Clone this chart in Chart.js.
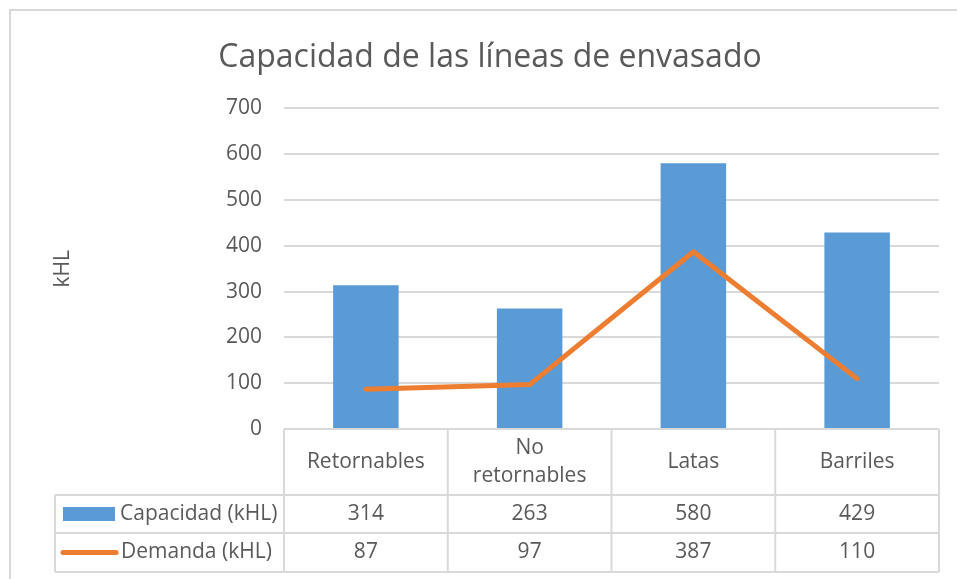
<!DOCTYPE html>
<html>
<head>
<meta charset="utf-8">
<script src="https://cdn.jsdelivr.net/npm/chart.js@4/dist/chart.umd.min.js"></script>
<style>
  body { margin: 0; background: #fff; }
  #wrap { position: relative; width: 957px; height: 579px; }
</style>
</head>
<body>
<div id="wrap"><canvas id="chart" width="957" height="579"></canvas></div>
<script>
// data
const categories = ['Retornables', 'No retornables', 'Latas', 'Barriles'];
const headerLines = [['Retornables'], ['No', 'retornables'], ['Latas'], ['Barriles']];
const capacidad = [314, 263, 580, 429];
const demanda = [87, 97, 387, 110];
const yTicks = [0, 100, 200, 300, 400, 500, 600, 700];

const textColor = '#595959';
const gridColor = '#d9d9d9';
const fontFamily = '"Open Sans", "Liberation Sans", sans-serif';

// frame around the whole chart (top + left, like the cropped excel object)
const framePlugin = {
    id: 'frame',
    beforeDraw(chart) {
        const ctx = chart.ctx;
        ctx.save();
        ctx.fillStyle = '#fff';
        ctx.fillRect(0, 0, chart.width, chart.height);
        ctx.strokeStyle = gridColor;
        ctx.lineWidth = 2;
        ctx.beginPath();
        ctx.moveTo(10, chart.height);
        ctx.lineTo(10, 10);
        ctx.lineTo(chart.width, 10);
        ctx.stroke();
        ctx.restore();
    }
};

// excel style data table under the plot
const dataTablePlugin = {
    id: 'dataTable',
    afterDraw(chart) {
        const ctx = chart.ctx;
        const area = chart.chartArea;
        const x = chart.scales.x;
        const colW = (area.right - area.left) / categories.length;
        const top = area.bottom;
        const r1 = top + 66, r2 = r1 + 38, r3 = r2 + 39;
        const legLeft = 55;

        ctx.save();
        ctx.strokeStyle = gridColor;
        ctx.lineWidth = 2;
        ctx.beginPath();
        // horizontal rules
        ctx.moveTo(area.left, top); ctx.lineTo(area.right, top);
        [r1, r2, r3].forEach(y => { ctx.moveTo(legLeft, y); ctx.lineTo(area.right, y); });
        // vertical rules
        for (let i = 0; i <= categories.length; i++) {
            const xx = area.left + i * colW;
            ctx.moveTo(xx, top); ctx.lineTo(xx, r3);
        }
        ctx.moveTo(legLeft, r1); ctx.lineTo(legLeft, r3);
        ctx.stroke();

        ctx.fillStyle = textColor;
        ctx.font = '21px ' + fontFamily;
        ctx.textAlign = 'center';
        ctx.textBaseline = 'middle';
        categories.forEach((c, i) => {
            const cx = x.getPixelForValue(i);
            const lines = headerLines[i];
            const lh = 28;
            const y0 = (top + r1) / 2 - (lines.length - 1) * lh / 2;
            lines.forEach((t, j) => ctx.fillText(t, cx, y0 + j * lh));
            ctx.fillText(String(capacidad[i]), cx, (r1 + r2) / 2);
            ctx.fillText(String(demanda[i]), cx, (r2 + r3) / 2);
        });

        // legend keys
        const bars = chart.data.datasets.find(d => d.type === 'bar');
        const line = chart.data.datasets.find(d => d.type === 'line');
        ctx.fillStyle = bars.backgroundColor;
        ctx.fillRect(63, (r1 + r2) / 2 - 7, 52, 14);
        ctx.strokeStyle = line.borderColor;
        ctx.lineWidth = 5;
        ctx.lineCap = 'round';
        ctx.beginPath();
        ctx.moveTo(63, (r2 + r3) / 2);
        ctx.lineTo(116, (r2 + r3) / 2);
        ctx.stroke();

        ctx.fillStyle = textColor;
        ctx.textAlign = 'left';
        ctx.fillText(bars.label, 120, (r1 + r2) / 2);
        ctx.fillText(line.label, 121, (r2 + r3) / 2);
        ctx.restore();
    }
};

new Chart(document.getElementById('chart'), {
    data: {
        labels: categories,
        datasets: [
            {
                type: 'bar',
                label: 'Capacidad (kHL)',
                data: capacidad,
                backgroundColor: '#5b9bd5',
                barPercentage: 0.4,
                categoryPercentage: 1,
                order: 1
            },
            {
                type: 'line',
                label: 'Demanda (kHL)',
                data: demanda,
                borderColor: '#ed7d31',
                borderWidth: 5,
                borderCapStyle: 'round',
                borderJoinStyle: 'round',
                pointRadius: 0,
                tension: 0,
                order: 0
            }
        ]
    },
    options: {
        responsive: false,
        animation: false,
        layout: { padding: { left: 41, right: 18, top: 0, bottom: 150 } },
        scales: {
            x: { display: false },
            y: {
                min: 0,
                max: 700,
                afterFit(scale) { scale.width = 243; },
                afterBuildTicks(scale) { scale.ticks = yTicks.map(v => ({ value: v })); },
                border: { display: false },
                grid: { color: gridColor, lineWidth: 2, drawTicks: false },
                ticks: {
                    padding: 22,
                    color: textColor,
                    font: { family: fontFamily, size: 21 }
                },
                title: {
                    display: true,
                    text: 'kHL',
                    color: textColor,
                    font: { family: fontFamily, size: 21 },
                    padding: { top: 9, bottom: 0 }
                }
            }
        },
        plugins: {
            legend: { display: false },
            tooltip: { enabled: false },
            title: {
                display: true,
                text: 'Capacidad de las líneas de envasado',
                color: textColor,
                font: { family: fontFamily, size: 32, weight: 'normal', lineHeight: 1.2 },
                padding: { top: 39, bottom: 31 }
            }
        }
    },
    plugins: [framePlugin, dataTablePlugin]
});
</script>
</body>
</html>
